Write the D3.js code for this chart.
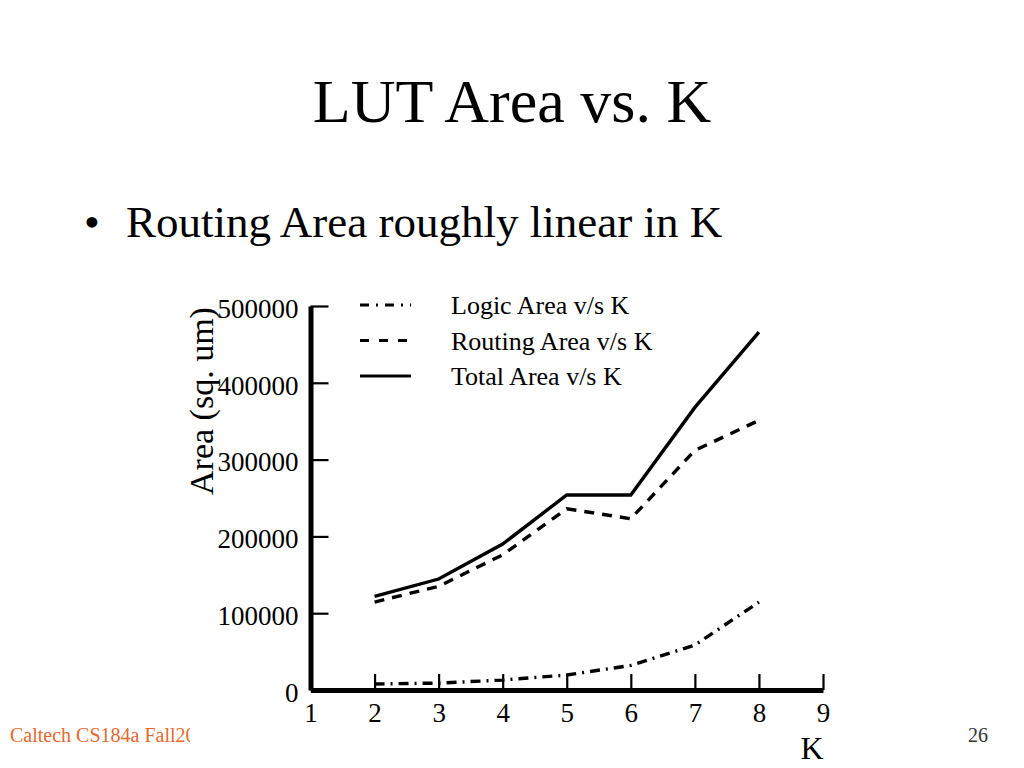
<!DOCTYPE html>
<html>
<head>
<meta charset="utf-8">
<script src="https://cdn.jsdelivr.net/npm/d3@7"></script>
<style>
  body { margin: 0; background: #fff; }
  svg { display: block; font-family: 'Liberation Serif', 'Times New Roman', serif; }
</style>
</head>
<body>
<div id="chart"></div>
<script>
// Data
const kValues = [2, 3, 4, 5, 6, 7, 8];
const logicArea = [7800, 9000, 13000, 19500, 32000, 58500, 114500];
const routingArea = [114500, 135000, 176000, 236000, 223000, 312000, 351000];
const totalArea = [122000, 144500, 190000, 254000, 254000, 368000, 466000];
const seriesNames = ['Logic Area v/s K', 'Routing Area v/s K', 'Total Area v/s K'];
const xTicks = [1, 2, 3, 4, 5, 6, 7, 8, 9];
const yTicks = [0, 100000, 200000, 300000, 400000, 500000];

// Line styles per series
const lineStyles = {
  'Logic Area v/s K': { dash: '10,6,2,6', legendDash: '9,7,2,7' },
  'Routing Area v/s K': { dash: '10,8', legendDash: '9,10' },
  'Total Area v/s K': { dash: null, legendDash: null },
};

const series = [logicArea, routingArea, totalArea].map((vals, i) => ({
  name: seriesNames[i],
  values: kValues.map((k, j) => ({ k: k, area: vals[j] })),
}));

const width = 1024;
const height = 768;

const svg = d3
  .select('#chart')
  .append('svg')
  .attr('width', width)
  .attr('height', height);

// Slide title and bullet
svg
  .append('text')
  .attr('x', 512)
  .attr('y', 122)
  .attr('text-anchor', 'middle')
  .style('font-size', '62px')
  .text('LUT Area vs. K');

svg
  .append('text')
  .attr('x', 84)
  .attr('y', 237)
  .style('font-size', '45px')
  .text('\u2022');

svg
  .append('text')
  .attr('x', 126)
  .attr('y', 237)
  .style('font-size', '45px')
  .text('Routing Area roughly linear in K');

// Scales
const x = d3.scaleLinear().domain([1, 9]).range([310.5, 823]);
const y = d3.scaleLinear().domain([0, 500000]).range([690, 306]);

// Y axis (ticks point inward)
const yAxis = svg
  .append('g')
  .attr('transform', `translate(${x(1)},0)`)
  .call(
    d3.axisLeft(y).tickValues(yTicks).tickSize(-18).tickSizeOuter(0).tickPadding(12).tickFormat(d3.format('d')),
  );
yAxis.select('.domain').attr('stroke', '#000').attr('stroke-width', 5);
yAxis.selectAll('.tick line').attr('stroke', '#000').attr('stroke-width', 2.2);
yAxis
  .selectAll('.tick text')
  .attr('fill', '#000')
  .attr('dy', '0.42em')
  .style('font-family', "'Liberation Serif', serif")
  .style('font-size', '27px');

// X axis (ticks point up)
const xAxis = svg
  .append('g')
  .attr('transform', `translate(0,${y(0)})`)
  .call(d3.axisBottom(x).tickValues(xTicks).tickSize(-16).tickSizeOuter(0).tickPadding(13).tickFormat(d3.format('d')));
xAxis.select('.domain').attr('stroke', '#000').attr('stroke-width', 5);
xAxis.selectAll('.tick line').attr('stroke', '#000').attr('stroke-width', 2.2);
xAxis
  .selectAll('.tick text')
  .attr('fill', '#000')
  .style('font-family', "'Liberation Serif', serif")
  .style('font-size', '27px');

// Axis titles
svg
  .append('text')
  .attr('transform', 'translate(213,401) rotate(-90)')
  .attr('text-anchor', 'middle')
  .style('font-size', '34px')
  .text('Area (sq. um)');

svg
  .append('text')
  .attr('x', 812)
  .attr('y', 759)
  .attr('text-anchor', 'middle')
  .style('font-size', '32px')
  .text('K');

// Lines
const line = d3
  .line()
  .x((d) => x(d.k))
  .y((d) => y(d.area));

svg
  .selectAll('.series')
  .data(series)
  .enter()
  .append('path')
  .attr('class', 'series')
  .attr('d', (d) => line(d.values))
  .attr('fill', 'none')
  .attr('stroke', '#000')
  .attr('stroke-width', 3.4)
  .attr('stroke-dasharray', (d) => lineStyles[d.name].dash);

// Legend
const legend = svg
  .selectAll('.legend')
  .data(series)
  .enter()
  .append('g')
  .attr('class', 'legend')
  .attr('transform', (d, i) => `translate(360,${305 + i * 35.5})`);

legend
  .append('line')
  .attr('x1', 0)
  .attr('x2', 51)
  .attr('stroke', '#000')
  .attr('stroke-width', 3)
  .attr('stroke-dasharray', (d) => lineStyles[d.name].legendDash);

legend
  .append('text')
  .attr('x', 91)
  .attr('y', 9)
  .style('font-size', '26px')
  .text((d) => d.name);

// Footer
svg
  .append('clipPath')
  .attr('id', 'footclip')
  .append('rect')
  .attr('x', 0)
  .attr('y', 700)
  .attr('width', 190)
  .attr('height', 68);

svg
  .append('text')
  .attr('x', 10)
  .attr('y', 742)
  .attr('clip-path', 'url(#footclip)')
  .attr('fill', '#E5692D')
  .style('font-size', '20px')
  .text('Caltech CS184a Fall2000');

svg
  .append('text')
  .attr('x', 988)
  .attr('y', 742)
  .attr('text-anchor', 'end')
  .attr('fill', '#333')
  .style('font-size', '20px')
  .text('26');
</script>
</body>
</html>
